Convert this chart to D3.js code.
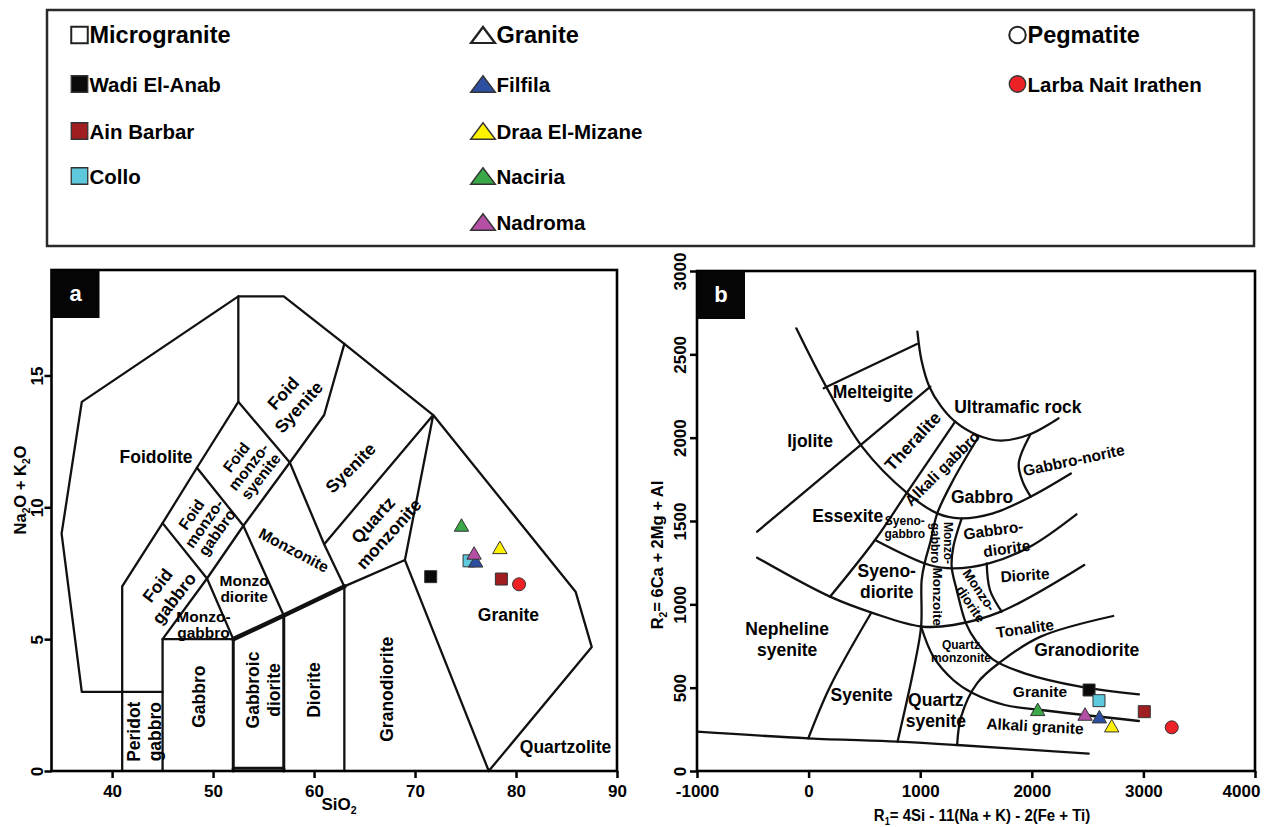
<!DOCTYPE html>
<html><head><meta charset="utf-8">
<script src="https://cdn.jsdelivr.net/npm/d3@7"></script>
<style>
body{margin:0;background:#fff}
text{font-family:"Liberation Sans",Arial,Helvetica,sans-serif;font-weight:bold;fill:#000}
</style>
</head><body>
<svg id="chart" width="1268" height="827"></svg>
<script>
// ---------------- DATA ----------------
const groups = ["Wadi El-Anab","Ain Barbar","Collo","Filfila","Draa El-Mizane","Naciria","Nadroma","Larba Nait Irathen"];
const groupShapes = ["square","square","square","triangle","triangle","triangle","triangle","circle"];
const groupColors = ["#0a0a0a","#a01d22","#5ec8dc","#2d4fa2","#fff200","#3aa848","#b54fa5","#ec2227"];
const groupLegendColumn = [0,0,0,1,1,1,1,2];
const legendHeaders = ["Microgranite","Granite","Pegmatite"];
const legendHeaderShapes = ["square","triangle","circle"];

// TAS (panel a)
const tasSiO2  = [71.55, 78.55, 75.35, 76.0, 78.4, 74.6, 75.85, 80.3];
const tasAlkali = [7.37, 7.28, 7.97, 7.97, 8.48, 9.33, 8.27, 7.08];
const tasXTicks = [40,50,60,70,80,90];
const tasYTicks = [0,5,10,15];

// R1-R2 (panel b)
const r1Values = [2513, 3008, 2602, 2605, 2716, 2053, 2477, 3254];
const r2Values = [486, 356, 422, 326, 272, 370, 342, 262];
const rrXTicks = [-1000,0,1000,2000,3000,4000];
const rrYTicks = [0,500,1000,1500,2000,2500,3000];

// field boundaries, TAS (SiO2, Na2O+K2O)
const tasFieldLines = [
  [[41,3],[37,3],[35,9],[37,14],[52.5,18],[57,18],[63,16.2],[71.8,13.5],[85.9,6.8],[87.5,4.7],[77.3,0]],
  [[41,0],[41,7],[45,9.4],[48.4,11.5],[52.5,14],[52.5,18]],
  [[41,3],[45,3]],
  [[45,0],[45,5],[52,5]],
  [[45,5],[49.4,7.3],[53,9.3],[57.6,11.7]],
  [[45,9.4],[49.4,7.3],[52,5]],
  [[48.4,11.5],[53,9.3],[57,5.9]],
  [[52.5,14],[57.6,11.7],[61,8.6],[63,7]],
  [[57.6,11.7],[61,13.5],[63,16.2]],
  [[61,8.6],[71.8,13.5],[69,8]],
  [[63,0],[63,7],[69,8],[77.3,0]]
];
const tasHeavyLines = [
  [[52,5],[57,5.9],[63,7]],
  [[52,0],[52,5]],
  [[57,0],[57,5.9]],
  [[52,0.1],[57,0.1]]
];
// field boundaries, R1-R2
const rrFieldLines = [
  [[-110,2656],[157,2306],[484,1942],[886,1666],[1153,1546],[1357,1516],[1652,1546],[1990,1646],[2350,1785]],
  [[975,2636],[1011,2466],[1082,2306],[1189,2186],[1313,2096],[1509,2016],[1723,1982],[1990,2022],[2239,2116]],
  [[135,2296],[971,2562]],
  [[-461,1436],[1091,2306]],
  [[1313,2096],[886,1675],[595,1386],[192,1046]],
  [[1527,2010],[1296,1746],[1153,1546],[1088,1366],[1043,1256],[1013,1146],[1008,867],[940,606],[797,176]],
  [[595,1386],[1082,1236],[1296,1216],[1616,1246],[1984,1346],[2400,1540]],
  [[1372,1516],[1297,1346],[1282,1226],[1327,1086],[1410,886],[1500,780],[1651,670],[1936,586],[2434,506],[2960,460]],
  [[1596,1246],[1625,1086],[1730,956]],
  [[-461,1280],[192,1046],[584,946],[1008,867],[1296,876],[1723,956],[2470,1236]],
  [[-3,196],[192,506],[560,948]],
  [[1331,156],[1367,326],[1509,526],[1723,656],[2079,806],[2729,930]],
  [[1008,867],[1118,686],[1296,546],[1473,466],[1758,396],[2079,366],[2960,300]],
  [[-1000,236],[-3,196],[797,176],[1331,156],[2510,104]],
  [[1990,2022],[1883,1846],[1918,1736],[1990,1646]]
];

// field names: [lines, x, y, angle, size class]
const tasFieldNames = [
  [["Foidolite"], 44.35, 11.92, 0, "L"],
  [["Foid","Syenite"], 57.7, 14.07, -48, "L"],
  [["Foid","monzo-","syenite"], 53.5, 11.54, -52, "M"],
  [["Syenite"], 63.6, 11.5, -45, "L"],
  [["Foid","monzo-","gabbro"], 49.1, 9.39, -55, "M"],
  [["Quartz","monzonite"], 66.6, 9.26, -48, "L"],
  [["Monzonite"], 58.0, 8.38, 28, "M"],
  [["Foid","gabbro"], 45.3, 6.8, -52, "L"],
  [["Monzo","diorite"], 53.07, 6.93, 0, "M"],
  [["Monzo-","gabbro"], 49.05, 5.56, 0, "M"],
  [["Gabbro"], 48.6, 2.82, -90, "L"],
  [["Gabbroic","diorite"], 54.93, 3.07, -90, "L"],
  [["Diorite"], 60.0, 3.07, -90, "L"],
  [["Granodiorite"], 67.2, 3.1, -90, "L"],
  [["Peridot","gabbro"], 43.16, 1.49, -90, "L"],
  [["Granite"], 79.25, 5.92, 0, "L"],
  [["Quartzolite"], 84.9, 0.92, 0, "L"]
];
const rrFieldNames = [
  [["Melteigite"], 577, 2276, 0, "L"],
  [["Ultramafic rock"], 1875, 2186, 0, "L"],
  [["Ijolite"], 13, 1982, 0, "L"],
  [["Theralite"], 932, 1980, -47, "L"],
  [["Alkali gabbro"], 1195, 1816, -45, "M"],
  [["Gabbro-norite"], 2375, 1866, -12, "M"],
  [["Gabbro"], 1554, 1646, 0, "L"],
  [["Essexite"], 350, 1530, 0, "L"],
  [["Syeno-","gabbro"], 862, 1460, 0, "S"],
  [["Monzo-","gabbro"], 1193, 1368, 90, "S"],
  [["Gabbro-"], 1655, 1446, -8, "M"],
  [["diorite"], 1775, 1336, -8, "M"],
  [["Syeno-","diorite"], 700, 1136, 0, "L"],
  [["Monzoite"], 1162, 1046, 90, "T"],
  [["Monzo-"], 1530, 1086, 56, "T"],
  [["diorite"], 1453, 1002, 56, "T"],
  [["Diorite"], 1939, 1176, -4, "M"],
  [["Tonalite"], 1939, 856, -8, "M"],
  [["Nepheline","syenite"], -192, 793, 0, "L"],
  [["Quartz","monzonite"], 1365, 716, 0, "S"],
  [["Granodiorite"], 2492, 726, 0, "L"],
  [["Granite"], 2073, 476, 0, "M"],
  [["Syenite"], 475, 456, 0, "L"],
  [["Quartz","syenite"], 1140, 364, 0, "L"],
  [["Alkali granite"], 2029, 270, 3, "M"]
];

// ---------------- DRAWING ----------------
const svg = d3.select("#chart");
const sizeOf = {L:17.5, M:15.5, T:13.5, S:12};
const lineGap = {L:21, M:15.5, T:14, S:13};

function markerPath(shape, s) {
  if (shape === "square") return `M${-s/2},${-s/2}h${s}v${s}h${-s}Z`;
  if (shape === "triangle") { const w = s*1.15, h = s; return `M0,${-h/2}L${w/2},${h/2}L${-w/2},${h/2}Z`; }
  const r = s/2; return `M${r},0A${r},${r} 0 1,1 ${-r},0A${r},${r} 0 1,1 ${r},0Z`;
}
const markerSize = {square:12, triangle:12.5, circle:13};

// Legend
const leg = svg.append("g");
leg.append("rect").attr("x",47).attr("y",10).attr("width",1207).attr("height",236)
  .attr("fill","none").attr("stroke","#2a2a2a").attr("stroke-width",2.5);
const colX = [79.5, 483, 1017.5];
const headerY = 35;
const itemY = [84, 131, 176, 222];
legendHeaders.forEach((h,i) => {
  const shp = legendHeaderShapes[i];
  leg.append("path").attr("d", markerPath(shp, shp==="triangle"?16:16.5))
    .attr("transform", `translate(${colX[i]},${headerY}) ${shp==="triangle"?"scale(1.3,1)":""}`)
    .attr("fill","#fff").attr("stroke","#222").attr("stroke-width",2);
  leg.append("text").attr("x", colX[i] + (shp==="triangle"?13.5:10)).attr("y", headerY+8)
    .style("font-size","23.5px").text(h);
});
const colCount = [0,0,0];
groups.forEach((g,i) => {
  const c = groupLegendColumn[i];
  const y = itemY[colCount[c]++] ;
  const shp = groupShapes[i];
  leg.append("path").attr("d", markerPath(shp, 16.5))
    .attr("transform", `translate(${colX[c]},${y}) ${shp==="triangle"?"scale(1.3,1)":""}`)
    .attr("fill", groupColors[i]).attr("stroke","#333").attr("stroke-width",1.3);
  leg.append("text").attr("x", colX[c] + (shp==="triangle"?13.5:10)).attr("y", y+7.5)
    .style("font-size","20.5px").text(g);
});

function subscriptText(t, parts, size) {
  let prevSub = false;
  parts.forEach(([s, sub]) => {
    const ts = t.append("tspan").text(s);
    if (sub) ts.attr("dy", size*0.25).style("font-size", (size*0.62)+"px");
    else if (prevSub) ts.attr("dy", -size*0.25);
    prevSub = sub;
  });
}

function panel(cfg) {
  const g = svg.append("g");
  const {x, y} = cfg;
  const line = d3.line().x(d => x(d[0])).y(d => y(d[1]));
  const smooth = d3.line().x(d => x(d[0])).y(d => y(d[1])).curve(d3.curveCatmullRom.alpha(0.5));
  const lg = g.append("g").attr("fill","none").attr("stroke","#111").attr("stroke-linejoin","round").attr("stroke-linecap","round");
  cfg.lines.forEach(l => lg.append("path").attr("d", (cfg.smooth ? smooth : line)(l)).attr("stroke-width", 2.3));
  (cfg.heavy || []).forEach((l,i) => lg.append("path").attr("d", line(l)).attr("stroke-width", i===0?4.5:3));

  // frame
  const [x0,x1] = x.range(), [y0,y1] = y.range();
  g.append("rect").attr("x",x0).attr("y",y1).attr("width",x1-x0).attr("height",y0-y1)
    .attr("fill","none").attr("stroke","#000").attr("stroke-width",2.6);

  // axes
  const ax = g.append("g").attr("transform",`translate(0,${y0})`)
    .call(d3.axisBottom(x).tickValues(cfg.xTicks).tickSize(7).tickSizeOuter(0).tickFormat(d => String(d)));
  ax.select(".domain").remove();
  ax.selectAll("line").attr("stroke","#000").attr("stroke-width",2.5);
  ax.selectAll("text").attr("y",26).attr("dy",0).style("font-size","17px").attr("fill","#000");
  if (cfg.lastShift) ax.selectAll("text").filter((d,i,n) => i===n.length-1).attr("dx", cfg.lastShift);
  const ay = g.append("g").attr("transform",`translate(${x0},0)`)
    .call(d3.axisLeft(y).tickValues(cfg.yTicks).tickSize(7).tickSizeOuter(0).tickFormat(d => String(d)));
  ay.select(".domain").remove();
  ay.selectAll("line").attr("stroke","#000").attr("stroke-width",2.5);
  ay.selectAll("text").attr("transform","rotate(-90)").attr("x",0).attr("y",cfg.yLabelOff).attr("dy",0)
    .attr("text-anchor","middle").style("font-size","17px").attr("fill","#000");

  // field names
  const ng = g.append("g");
  cfg.names.forEach(([lines, dx, dy, ang, cls]) => {
    const t = ng.append("text").attr("transform",`translate(${x(dx)},${y(dy)}) rotate(${ang})`)
      .attr("text-anchor","middle").style("font-size", sizeOf[cls]+"px");
    lines.forEach((ln,i) => t.append("tspan").attr("x",0)
      .attr("y",(i-(lines.length-1)/2)*lineGap[cls]).attr("dy","0.36em").text(ln));
  });

  // panel tag
  g.append("rect").attr("x",x0).attr("y",y1).attr("width",cfg.tagW).attr("height",48).attr("fill","#050505");
  g.append("text").attr("x",x0+cfg.tagW/2).attr("y",y1+31).attr("text-anchor","middle")
    .style("font-size","22px").style("fill","#fff").text(cfg.tag);

  // samples
  const mg = g.append("g");
  cfg.px.forEach((v,i) => {
    const shp = groupShapes[i];
    mg.append("path").attr("d", markerPath(shp, markerSize[shp]))
      .attr("transform",`translate(${x(v)},${y(cfg.py[i])})`)
      .attr("fill", groupColors[i]).attr("stroke","#333").attr("stroke-width",1);
  });

  // axis titles
  const xt = g.append("text").attr("transform",`translate(${cfg.xTitlePos[0]},${cfg.xTitlePos[1]}) scale(${cfg.xTitleScale},1)`)
    .attr("text-anchor","middle").style("font-size","17px");
  subscriptText(xt, cfg.xTitle, 17);
  const yt = g.append("text").attr("transform",`translate(${cfg.yTitlePos[0]},${cfg.yTitlePos[1]}) rotate(-90)`).attr("text-anchor","middle").style("font-size","16.5px");
  subscriptText(yt, cfg.yTitle, 16.5);
}

panel({
  x: d3.scaleLinear().domain([34,90]).range([51.5,617]),
  y: d3.scaleLinear().domain([0,19]).range([771,270]),
  lines: tasFieldLines, heavy: tasHeavyLines, smooth:false,
  xTicks: tasXTicks, yTicks: tasYTicks, yLabelOff: -9,
  names: tasFieldNames, tag:"a", tagW:48,
  px: tasSiO2, py: tasAlkali,
  xTitle: [["SiO",false],["2",true]], xTitlePos:[339,810], xTitleScale:1,
  yTitle: [["Na",false],["2",true],["O + K",false],["2",true],["O",false]], yTitlePos:[26,490]
});
panel({
  x: d3.scaleLinear().domain([-1000,4000]).range([697,1255]),
  y: d3.scaleLinear().domain([0,3000]).range([771,271]),
  lines: rrFieldLines, smooth:true,
  xTicks: rrXTicks, yTicks: rrYTicks, yLabelOff: -11, lastShift: -14,
  names: rrFieldNames, tag:"b", tagW:48,
  px: r1Values, py: r2Values,
  xTitle: [["R",false],["1",true],["= 4Si - 11(Na + K) - 2(Fe + Ti)",false]], xTitlePos:[982,821], xTitleScale:0.88,
  yTitle: [["R",false],["2",true],["= 6Ca + 2Mg + Al",false]], yTitlePos:[663,555]
});
</script>
</body></html>
